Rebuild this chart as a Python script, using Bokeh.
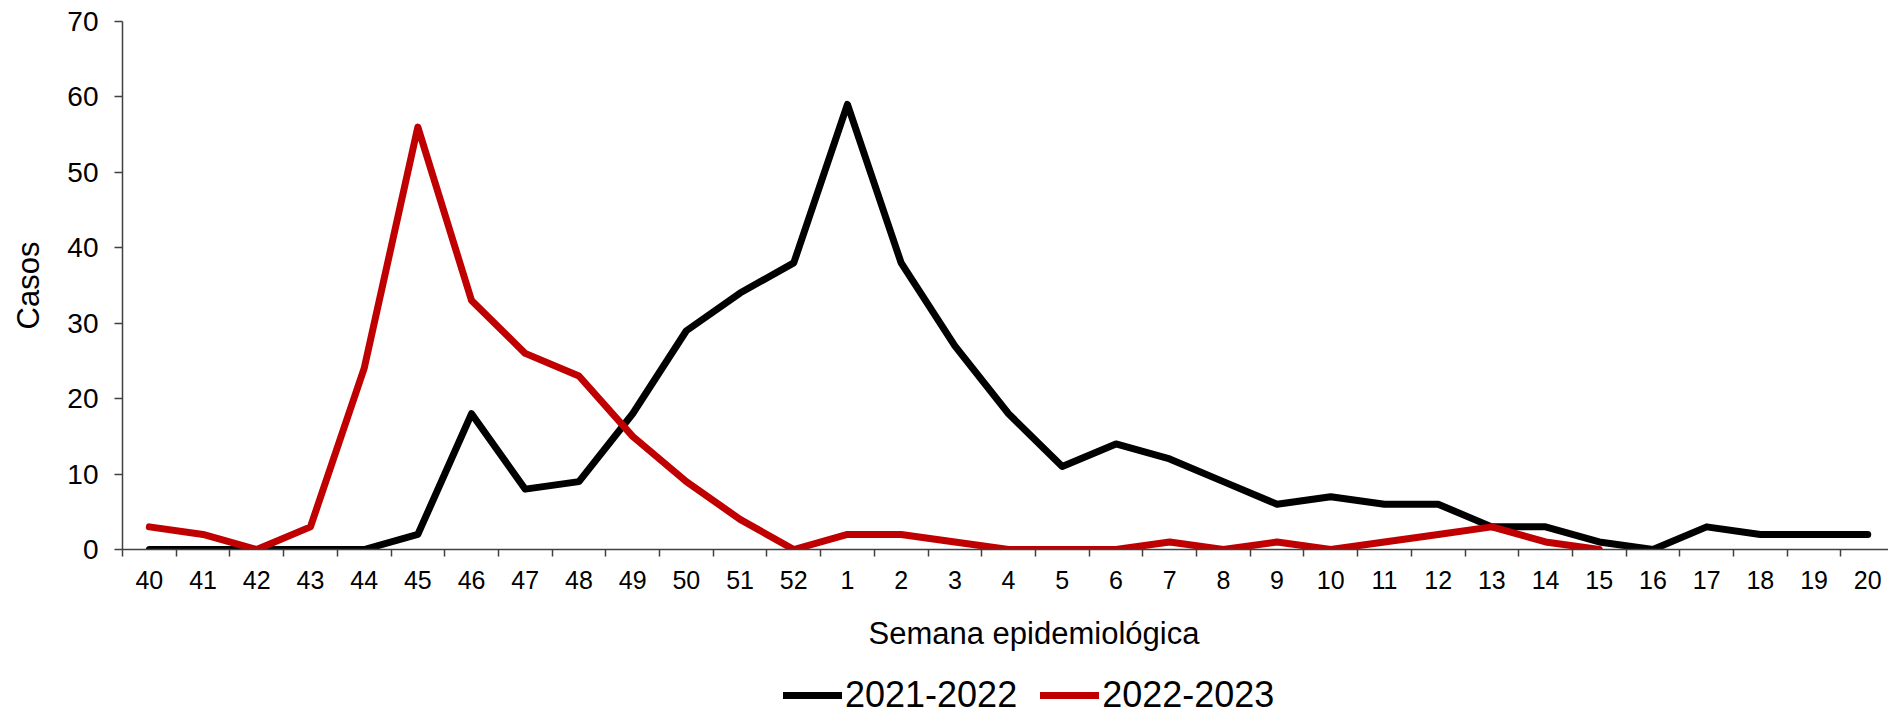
from bokeh.plotting import figure
from bokeh.layouts import column
from bokeh.models import (Range1d, FixedTicker, Title, Legend, LegendItem)
from bokeh.embed import file_html
from bokeh.resources import INLINE

weeks = ["40", "41", "42", "43", "44", "45", "46", "47", "48", "49", "50", "51", "52",
         "1", "2", "3", "4", "5", "6", "7", "8", "9", "10", "11", "12", "13", "14",
         "15", "16", "17", "18", "19", "20"]
season_2021_2022 = [0, 0, 0, 0, 0, 2, 18, 8, 9, 18, 29, 34, 38,
                    59, 38, 27, 18, 11, 14, 12, 9, 6, 7, 6, 6, 3, 3, 1, 0, 3, 2, 2, 2]
season_2022_2023 = [3, 2, 0, 3, 24, 56, 33, 26, 23, 15, 9, 4, 0,
                    2, 2, 1, 0, 0, 0, 1, 0, 1, 0, 1, 2, 3, 1, 0]
y_ticks = [0, 10, 20, 30, 40, 50, 60, 70]
series_names = ["2021-2022", "2022-2023"]
series_colors = ["#000000", "#C00000"]

FONT = "Liberation Sans"
AX = "#404040"
LW = 7

n = len(weeks)
W = 1888
H_MAIN, H_LEG = 595, 121
LEFT = 122
spacing = 53.7
x_end = -0.5 + (W - LEFT) / spacing

p = figure(width=W, height=H_MAIN, output_backend="svg", toolbar_location=None,
           x_range=Range1d(-0.5, x_end), y_range=Range1d(0, 70),
           min_border_left=LEFT, min_border_right=0, min_border_top=21,
           min_border_bottom=46)
p.outline_line_color = None
p.xgrid.visible = False
p.ygrid.visible = False
p.background_fill_color = "white"
p.border_fill_color = "white"

# x axis: labels at week centres, tick marks between weeks
centres = list(range(n))
bounds = [i - 0.5 for i in range(n + 1)]
xa = p.xaxis[0]
xa.ticker = FixedTicker(ticks=centres, minor_ticks=bounds)
xa.major_label_overrides = {i: w for i, w in enumerate(weeks)}
xa.major_tick_in = 0
xa.major_tick_out = 0
xa.minor_tick_in = 0
xa.minor_tick_out = 7
xa.minor_tick_line_color = AX
xa.minor_tick_line_width = 1.5
xa.axis_line_color = AX
xa.axis_line_width = 1.5
xa.major_label_standoff = 14
xa.major_label_text_font = FONT
xa.major_label_text_font_size = "25px"
xa.major_label_text_color = "#000000"

ya = p.yaxis[0]
ya.ticker = FixedTicker(ticks=y_ticks)
ya.minor_tick_line_color = None
ya.major_tick_in = 0
ya.major_tick_out = 8
ya.major_tick_line_color = AX
ya.major_tick_line_width = 1.5
ya.axis_line_color = AX
ya.axis_line_width = 1.5
ya.major_label_standoff = 16
ya.major_label_text_font = FONT
ya.major_label_text_font_size = "28px"
ya.major_label_text_color = "#000000"
ya.axis_label = "Casos"
ya.axis_label_standoff = 18
ya.axis_label_text_font = FONT
ya.axis_label_text_font_size = "31px"
ya.axis_label_text_font_style = "normal"
ya.axis_label_text_color = "#000000"

p.line(list(range(len(season_2021_2022))), season_2021_2022,
       line_color=series_colors[0], line_width=LW, line_cap="round", line_join="round")
p.line(list(range(len(season_2022_2023))), season_2022_2023,
       line_color=series_colors[1], line_width=LW, line_cap="round", line_join="round")

# strip below the chart: x-axis title and legend
lf = figure(width=W, height=H_LEG, output_backend="svg", toolbar_location=None,
            x_axis_type=None, y_axis_type=None,
            x_range=Range1d(10, 11), y_range=Range1d(0, 1),
            min_border_left=LEFT, min_border_right=0, min_border_top=55,
            min_border_bottom=0)
lf.outline_line_color = None
lf.grid.visible = False
lf.background_fill_color = "white"
lf.border_fill_color = "white"

xtitle = Title(text="Semana epidemiológica", align="left", offset=746, text_font=FONT,
               text_font_size="31px", text_font_style="normal", text_color="#000000",
               standoff=0)
lf.add_layout(xtitle, "above")

# legend keys (kept outside the strip's visible range; only their legend glyphs show)
k1 = lf.line([0, 1], [0, 0], line_color=series_colors[0], line_width=LW, line_cap="round")
k2 = lf.line([0, 1], [0, 0], line_color=series_colors[1], line_width=LW, line_cap="round")
legend = Legend(items=[LegendItem(label=series_names[0], renderers=[k1]),
                       LegendItem(label=series_names[1], renderers=[k2])],
                orientation="horizontal", location=(661, 0),
                glyph_width=59, glyph_height=30, label_height=30,
                label_standoff=3, spacing=23,
                padding=0, margin=0, border_line_color=None, background_fill_alpha=0,
                label_text_font=FONT, label_text_font_size="36px",
                label_text_color="#000000")
lf.add_layout(legend, "center")

open("out.html", "w").write(file_html(column(p, lf, spacing=0), INLINE))
